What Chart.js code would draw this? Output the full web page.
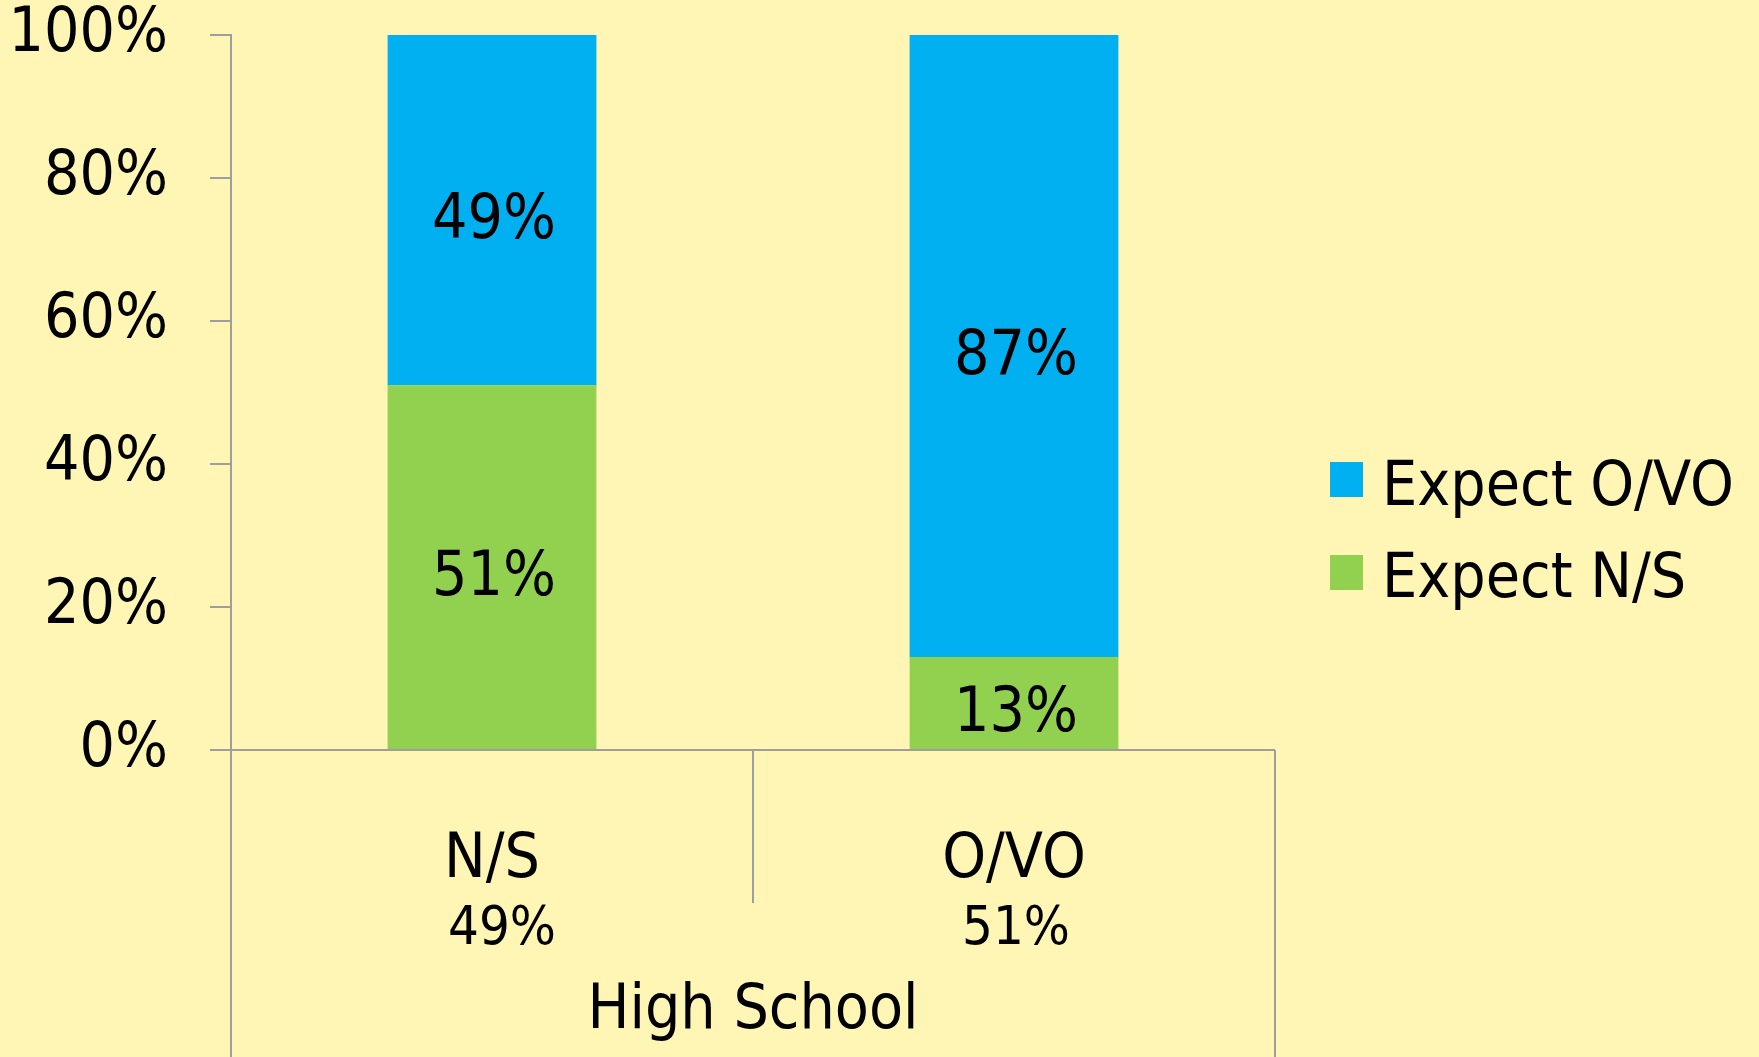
<!DOCTYPE html>
<html><head><meta charset="utf-8">
<script src="https://cdn.jsdelivr.net/npm/chart.js@4.4.0/dist/chart.umd.min.js"></script>
<style>html,body{margin:0;padding:0;background:#FFF6B5;overflow:hidden;} #wrap{width:1759px;height:1057px;}</style>
</head><body><div id="wrap"><canvas id="c" width="1759" height="1057"></canvas></div>
<script>
const categories = ['N/S', 'O/VO'];
const categoryShares = ['49%', '51%'];
const groupLabel = 'High School';
const seriesNames = ['Expect N/S', 'Expect O/VO'];
const expectNS = [51, 13];
const expectOVO = [49, 87];
const yTickValues = [0, 20, 40, 60, 80, 100];

const FONT = "'DejaVu Sans Condensed', 'DejaVu Sans', sans-serif";
const FS = 62;
const GRAY = '#9E9E9E';
const BLUE = '#00B0F0';
const GREEN = '#92D050';

const framePlugin = {
  id: 'frame',
  beforeDraw(chart) {
    const ctx = chart.ctx;
    ctx.save();
    ctx.fillStyle = '#FFF6B5';
    ctx.fillRect(0, 0, chart.width, chart.height);
    ctx.restore();
  },
  afterDraw(chart) {
    const ctx = chart.ctx;
    const ca = chart.chartArea;
    const xs = chart.scales.x;
    const H = chart.height;
    ctx.save();
    // x-axis frame
    ctx.strokeStyle = GRAY;
    ctx.lineWidth = 2;
    ctx.beginPath();
    ctx.moveTo(ca.left - 21, ca.bottom); ctx.lineTo(ca.right, ca.bottom);
    ctx.moveTo(ca.left, ca.bottom); ctx.lineTo(ca.left, H);
    ctx.moveTo(ca.right, ca.bottom); ctx.lineTo(ca.right, H);
    const divX = (xs.getPixelForValue(0) + xs.getPixelForValue(1)) / 2;
    ctx.moveTo(divX, ca.bottom); ctx.lineTo(divX, ca.bottom + 153);
    ctx.stroke();

    // category labels
    ctx.fillStyle = '#000';
    ctx.textAlign = 'center';
    ctx.textBaseline = 'alphabetic';
    const shareOffsets = [10, 2];
    categories.forEach((c, i) => {
      const x = xs.getPixelForValue(i);
      ctx.font = FS + 'px ' + FONT;
      ctx.fillText(c, x, ca.bottom + 127);
      ctx.font = '54px ' + FONT;
      ctx.fillText(categoryShares[i], x + shareOffsets[i], ca.bottom + 194);
    });
    ctx.font = FS + 'px ' + FONT;
    ctx.fillText(groupLabel, (ca.left + ca.right) / 2, ca.bottom + 278);

    // data labels
    chart.data.datasets.forEach((ds, di) => {
      const meta = chart.getDatasetMeta(di);
      meta.data.forEach((el, i) => {
        const cy = (el.y + el.base) / 2;
        ctx.fillText(ds.data[i] + '%', el.x + 2, cy + 28);
      });
    });

    // legend
    const order = [1, 0];
    ctx.textAlign = 'left';
    order.forEach((di, k) => {
      const ds = chart.data.datasets[di];
      const top = 462 + k * 93;
      ctx.fillStyle = ds.backgroundColor;
      ctx.fillRect(1330, top, 33, 35);
      ctx.fillStyle = '#000';
      ctx.fillText(ds.label, 1382, 505 + k * 92);
    });
    ctx.restore();
  }
};

new Chart(document.getElementById('c'), {
  type: 'bar',
  data: {
    labels: categories,
    datasets: [
      { label: seriesNames[0], data: expectNS, backgroundColor: GREEN, borderWidth: 0 },
      { label: seriesNames[1], data: expectOVO, backgroundColor: BLUE, borderWidth: 0 }
    ]
  },
  options: {
    responsive: false,
    animation: false,
    devicePixelRatio: 1,
    layout: { padding: { top: 35, right: 484, bottom: 307, left: 0 } },
    plugins: { legend: { display: false }, tooltip: { enabled: false } },
    datasets: { bar: { barPercentage: 1, categoryPercentage: 0.4 } },
    scales: {
      x: { stacked: true, display: false },
      y: {
        stacked: true, min: 0, max: 100,
        afterBuildTicks: (s) => { s.ticks = yTickValues.map(v => ({ value: v })); },
        afterFit: (s) => { s.width = 231; s.paddingTop = 0; s.paddingBottom = 0; },
        ticks: { callback: v => v + '%', color: '#000', font: { family: FONT, size: FS }, padding: 42 },
        grid: { drawOnChartArea: false, drawTicks: true, tickLength: 21, color: GRAY, lineWidth: 2 },
        border: { color: GRAY, width: 2 }
      }
    }
  },
  plugins: [framePlugin]
});
</script>
</body></html>
